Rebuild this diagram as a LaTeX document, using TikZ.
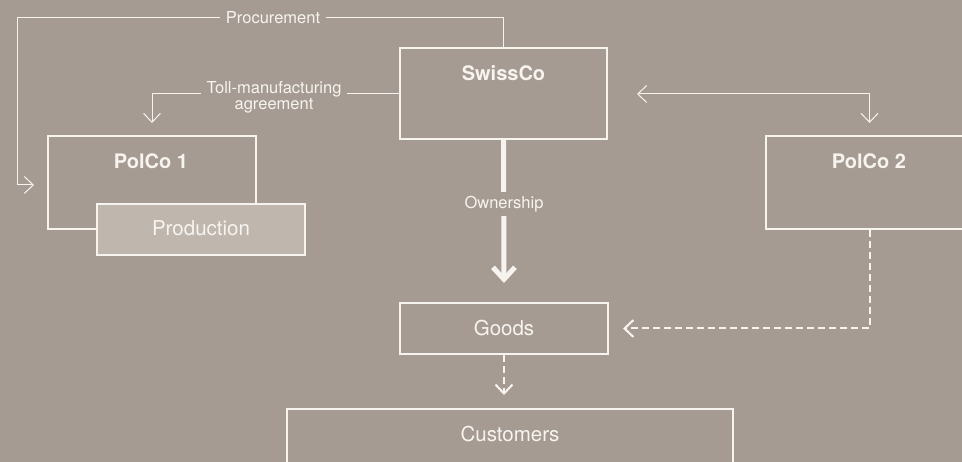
\documentclass[tikz,border=0pt]{standalone}
\usepackage{fontspec}
\setmainfont{TeX Gyre Heros}
\usetikzlibrary{arrows.meta,calc}
\definecolor{bgc}{RGB}{166,155,146}
\definecolor{prodc}{RGB}{191,182,173}
\definecolor{linec}{RGB}{247,244,240}
\tikzset{
  tipthin/.tip={Straight Barb[length=9pt,width=17pt]},
  tipdash/.tip={Straight Barb[length=9pt,width=17pt]},
  tipthick/.tip={Straight Barb[length=12pt,width=22pt]},
}
\begin{document}
\begin{tikzpicture}[x=1pt,y=-1pt,
  box/.style={draw=linec, line width=1.2pt, rectangle, inner sep=0pt},
  title/.style={text=linec, font=\fontsize{20}{24}\selectfont\bfseries, anchor=base, inner sep=0pt},
  boxtext/.style={text=linec, font=\fontsize{20.5}{24}\selectfont, anchor=base, inner sep=0pt},
  smalllbl/.style={text=linec, font=\fontsize{16.5}{14.5}\selectfont, fill=bgc, align=center, inner xsep=6pt, inner ysep=0pt},
  conn/.style={draw=linec, line width=1pt},
  dasharrow/.style={draw=linec, line width=2pt, dash pattern=on 7pt off 4pt, -tipdash},
  thickarrow/.style={draw=linec, line width=5pt, -tipthick},
]
\useasboundingbox (0,0) rectangle (962,462);
\fill[bgc] (0,0) rectangle (962,462);
\clip (0,0) rectangle (962,462);

% boxes
\node[box, minimum width=207pt, minimum height=91pt] (swiss) at (503.5,93.5) {};
\node[title] (swisslbl) at (503.5,80.5) {SwissCo};

\node[box, minimum width=208pt, minimum height=93pt] (polco1) at (152,182.5) {};
\node[title] (polco1lbl) at (151,169) {PolCo 1};

\node[box, fill=prodc, minimum width=208pt, minimum height=51pt] (prod) at (201,229.5) {};
\node[boxtext] (prodlbl) at (201,235.5) {Production};

\node[box, minimum width=207pt, minimum height=93pt] (polco2) at (869.5,182.5) {};
\node[title] (polco2lbl) at (869,168.7) {PolCo 2};

\node[box, minimum width=208pt, minimum height=51pt] (goods) at (504,328.5) {};
\node[boxtext] (goodslbl) at (504,335.4) {Goods};

\node[box, minimum width=446pt, minimum height=62pt] (cust) at (510,440) {};
\node[boxtext] (custlbl) at (510,441.4) {Customers};

% coordinates for free arrow ends
\coordinate (procCorner) at (17,18);
\coordinate (procTip) at (34,185);
\coordinate (tollTip) at (152,123);
\coordinate (spL) at (637,94);
\coordinate (spR) at (869.5,123);
\coordinate (ownTip) at (504,283);
\coordinate (gTip) at (623,328.5);
\coordinate (cTip) at (504,395);

% connectors
\draw[conn, -tipthin] (swiss.north) |- (procCorner) |- (procTip);
\node[smalllbl] (proclbl) at (273,17.5) {Procurement};

\draw[conn, -tipthin] (swiss.west) -| (tollTip);
\node[smalllbl] (tolllbl) at (274,97) {Toll-manufacturing\\agreement};

\draw[conn, tipthin-tipthin] (spL) -| (spR);

\draw[thickarrow] (swiss.south) -- (ownTip);
\node[smalllbl, inner ysep=4.3pt, inner xsep=2pt] (ownlbl) at (504,204) {Ownership};

\draw[dasharrow] (polco2.south) |- (gTip);
\draw[dasharrow] (goods.south) -- (cTip);
\end{tikzpicture}
\end{document}
